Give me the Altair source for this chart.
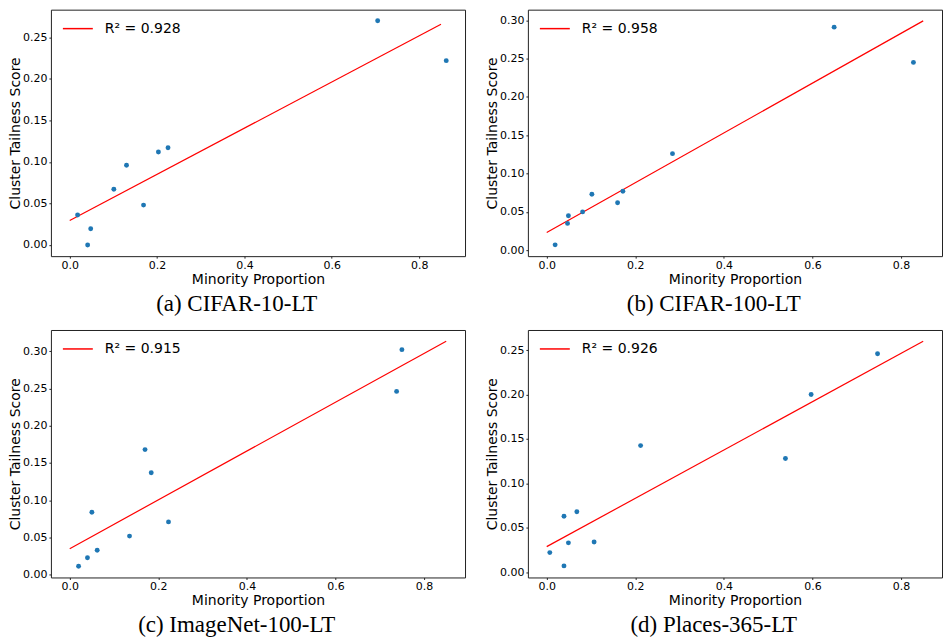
import altair as alt
import pandas as pd

captions = ["(a) CIFAR-10-LT", "(b) CIFAR-100-LT", "(c) ImageNet-100-LT", "(d) Places-365-LT"]
r2_labels = ["R² = 0.928", "R² = 0.958", "R² = 0.915", "R² = 0.926"]

a_x = [0.018, 0.048, 0.041, 0.101, 0.130, 0.169, 0.203, 0.225, 0.705, 0.862]
a_y = [0.036, 0.0195, 0.000, 0.067, 0.096, 0.048, 0.112, 0.117, 0.270, 0.222]
b_x = [0.019, 0.049, 0.047, 0.081, 0.102, 0.160, 0.172, 0.284, 0.649, 0.828]
b_y = [0.007, 0.045, 0.035, 0.050, 0.073, 0.062, 0.077, 0.126, 0.291, 0.245]
c_x = [0.020, 0.040, 0.062, 0.050, 0.135, 0.170, 0.184, 0.223, 0.738, 0.750]
c_y = [0.0116, 0.023, 0.033, 0.084, 0.052, 0.168, 0.137, 0.071, 0.246, 0.302]
d_x = [0.007, 0.039, 0.039, 0.049, 0.068, 0.107, 0.212, 0.539, 0.597, 0.747]
d_y = [0.022, 0.063, 0.007, 0.033, 0.068, 0.034, 0.1425, 0.128, 0.200, 0.246]

fit_x = [0.0, 0.85]
a_fit = [0.0294, 0.2659]
b_fit = [0.0232, 0.2992]
c_fit = [0.0351, 0.3133]
d_fit = [0.0287, 0.2600]

x_domains = [[-0.0431, 0.905], [-0.0425, 0.8925], [-0.0425, 0.8925], [-0.0425, 0.8925]]
y_domains = [[-0.0135, 0.2834], [-0.0077, 0.3138], [-0.0035, 0.3284], [-0.006, 0.2727]]
y_ticks = [[0, 0.05, 0.10, 0.15, 0.20, 0.25], [0, 0.05, 0.10, 0.15, 0.20, 0.25, 0.30],
           [0, 0.05, 0.10, 0.15, 0.20, 0.25, 0.30], [0, 0.05, 0.10, 0.15, 0.20, 0.25]]
x_ticks = [0.0, 0.2, 0.4, 0.6, 0.8]

PW = 415
PH = [247, 247, 248, 248]


def panel(i, xs, ys, fit):
    pts = pd.DataFrame({"x": xs, "y": ys})
    ln = pd.DataFrame({"x": fit_x, "y": fit, "lab": [r2_labels[i]] * 2})
    xsc = alt.Scale(domain=x_domains[i], nice=False, zero=False)
    ysc = alt.Scale(domain=y_domains[i], nice=False, zero=False)
    xax = alt.Axis(values=x_ticks, format=".1f", title="Minority Proportion", grid=False,
                   labelPadding=1, titlePadding=2)
    yax = alt.Axis(values=y_ticks[i], format=".2f", title="Cluster Tailness Score", grid=False)
    line = alt.Chart(ln).mark_line(strokeWidth=1.2, clip=True).encode(
        x=alt.X("x:Q", scale=xsc, axis=xax),
        y=alt.Y("y:Q", scale=ysc, axis=yax),
        color=alt.Color("lab:N", scale=alt.Scale(domain=[r2_labels[i]], range=["#ff0000"]),
                        legend=alt.Legend(orient="none", legendX=11, legendY=3, title=None,
                                          symbolType="stroke", symbolSize=900,
                                          symbolStrokeWidth=1.5, labelFontSize=14,
                                          labelFont="DejaVu Sans", labelOffset=11,
                                          labelColor="black", padding=0)),
    )
    sc = alt.Chart(pts).mark_circle(size=24, opacity=1, color="#1f77b4").encode(
        x=alt.X("x:Q", scale=xsc), y=alt.Y("y:Q", scale=ysc)
    )
    return alt.layer(line, sc).properties(
        width=PW, height=PH[i],
        title=alt.TitleParams(captions[i], orient="bottom", anchor="middle", frame="bounds",
                              font="Liberation Serif", fontSize=23, fontWeight="normal",
                              color="black", offset=7),
    )


pa = panel(0, a_x, a_y, a_fit)
pb = panel(1, b_x, b_y, b_fit)
pc = panel(2, c_x, c_y, c_fit)
pd_ = panel(3, d_x, d_y, d_fit)

row1 = alt.hconcat(pa, pb, spacing=19).resolve_scale(color="independent").resolve_legend(color="independent")
row2 = alt.hconcat(pc, pd_, spacing=19).resolve_scale(color="independent").resolve_legend(color="independent")

chart = alt.vconcat(row1, row2, spacing=12).resolve_scale(color="independent").resolve_legend(
    color="independent"
).properties(
    padding={"left": 0, "top": 0, "right": 0, "bottom": 0}, background="white"
).configure_view(
    stroke="#222", strokeWidth=1
).configure_axis(
    labelFont="DejaVu Sans", labelFontSize=11, labelColor="black",
    titleFont="DejaVu Sans", titleFontSize=14, titleFontWeight="normal", titleColor="black",
    tickSize=2, tickColor="#222", labelPadding=2, titlePadding=0, domain=False, grid=False,
)

chart.save("out.html", embed_options={"renderer": "svg", "actions": False})
